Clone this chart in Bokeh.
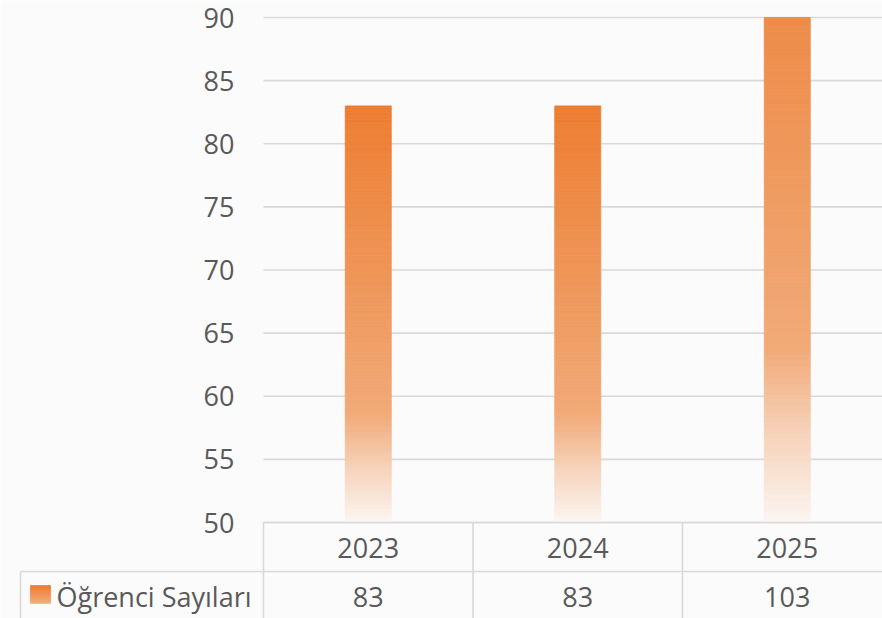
from bokeh.plotting import figure
from bokeh.models import Range1d
from bokeh.core.properties import value
from bokeh.embed import file_html
from bokeh.resources import INLINE

# ---- data ----
years = ["2023", "2024", "2025"]
students = [83, 83, 103]
series_name = "Öğrenci Sayıları"
y_ticks = [50, 55, 60, 65, 70, 75, 80, 85, 90]
y_min, y_max = 50, 90

FONT = "Open Sans"
TXT = "#595959"
LINE = "#D9D9D9"
FS = "27px"

W, H = 882, 618
# picture-pixel helpers (layout only)
COL_W = 209.5          # px per category
PX_PER_UNIT = 12.625   # px per y unit
X0_PX = 263            # x of first column boundary
Y50_PX = 522           # y of y_min

def xd(px):
    return (px - X0_PX) / COL_W

def yd(py):
    return y_min + (Y50_PX - py) / PX_PER_UNIT

p = figure(width=W, height=H, output_backend="svg", toolbar_location=None,
           x_range=Range1d(xd(0), xd(W)), y_range=Range1d(yd(H), yd(0)),
           min_border=0, min_border_left=0, min_border_right=0,
           min_border_top=0, min_border_bottom=0)
p.axis.visible = False
p.grid.visible = False
p.outline_line_color = None
p.background_fill_color = "#FBFBFB"
p.border_fill_color = "#FBFBFB"

# gridlines
p.segment(x0=[0] * len(y_ticks), x1=[3.2] * len(y_ticks), y0=y_ticks, y1=y_ticks,
          line_color=LINE, line_width=1.6)

# y tick labels
p.text(x=[xd(234)] * len(y_ticks), y=y_ticks, text=[str(t) for t in y_ticks],
       text_align="right", text_baseline="middle", text_font=value(FONT),
       text_font_size=FS, text_color=TXT)

# gradient colour helper
stops = [(0.0, (237, 125, 49)), (0.45, (239, 152, 92)), (0.74, (241, 170, 120)),
         (0.86, (246, 208, 182)), (1.0, (251, 246, 242))]

def grad(f):
    for (f0, c0), (f1, c1) in zip(stops[:-1], stops[1:]):
        if f0 <= f <= f1:
            t = (f - f0) / (f1 - f0) if f1 > f0 else 0
            r, g, b = (round(a + (bb - a) * t) for a, bb in zip(c0, c1))
            return "#%02x%02x%02x" % (r, g, b)
    return "#%02x%02x%02x" % stops[-1][1]

# bars drawn as gradient slices
bar_w = 46 / COL_W
L, R, B, T, C = [], [], [], [], []
N = 120
for i, v in enumerate(students):
    cx = i + 0.5
    h = v - y_min
    for k in range(N):
        lo = y_min + h * k / N
        hi = y_min + h * (k + 1) / N
        if lo >= y_max:
            break
        hi = min(hi, y_max)
        f = 1 - (k + 0.5) / N
        L.append(cx - bar_w / 2); R.append(cx + bar_w / 2)
        B.append(lo); T.append(hi); C.append(grad(f))
p.quad(left=L, right=R, bottom=B, top=T, fill_color=C, line_color=C, line_width=0.8)

# data table
row1_y = yd(571)
bottom_y = yd(640)
ncat = len(years)
p.segment(x0=[0, xd(20)], x1=[3.2, 3.2], y0=[y_min, row1_y], y1=[y_min, row1_y],
          line_color=LINE, line_width=1.6)
p.segment(x0=list(range(ncat + 1)) + [xd(20)], x1=list(range(ncat + 1)) + [xd(20)],
          y0=[y_min] * (ncat + 1) + [row1_y], y1=[bottom_y] * (ncat + 2),
          line_color=LINE, line_width=1.6)

cx = [i + 0.5 for i in range(ncat)]
p.text(x=cx, y=[yd(547)] * ncat, text=years, text_align="center", text_baseline="middle",
       text_font=value(FONT), text_font_size=FS, text_color=TXT)
p.text(x=cx, y=[yd(596)] * ncat, text=[str(v) for v in students], text_align="center",
       text_baseline="middle", text_font=value(FONT), text_font_size=FS, text_color=TXT)

# legend key (small gradient square) + series name
kL, kR, kB, kT, kC = [], [], [], [], []
M = 12
for k in range(M):
    lo = yd(603) + (yd(585) - yd(603)) * k / M
    hi = yd(603) + (yd(585) - yd(603)) * (k + 1) / M
    kL.append(xd(30)); kR.append(xd(50)); kB.append(lo); kT.append(hi)
    kC.append(grad(0.8 * (1 - (k + 0.5) / M)))
p.quad(left=kL, right=kR, bottom=kB, top=kT, fill_color=kC, line_color=kC, line_width=0.8)
p.text(x=[xd(56)], y=[yd(596)], text=[series_name], text_align="left", text_baseline="middle",
       text_font=value(FONT), text_font_size=FS, text_color=TXT)

open("out.html", "w").write(file_html(p, INLINE))
